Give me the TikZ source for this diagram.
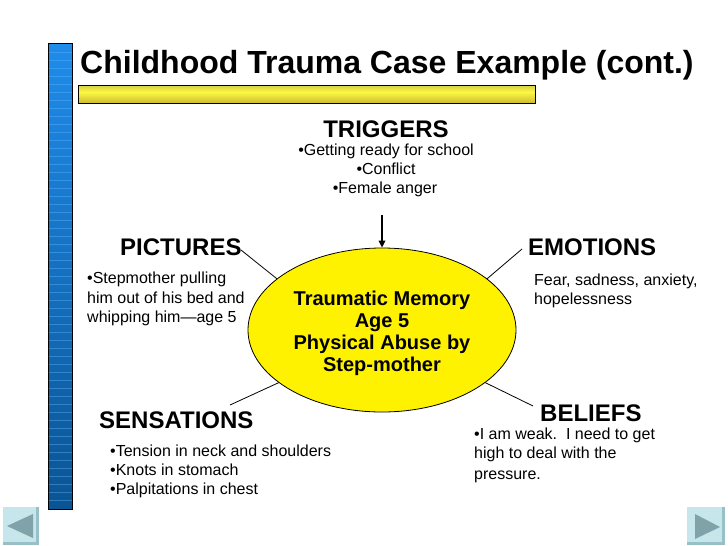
\documentclass[tikz,border=0pt]{standalone}
\usepackage{fontspec}
\setmainfont{Liberation Sans}
\usetikzlibrary{arrows.meta,shapes.geometric}
\definecolor{barTop}{HTML}{1E8CEC}
\definecolor{barBot}{HTML}{0A5494}
\definecolor{barLine}{HTML}{6CB4F2}
\definecolor{olvTop}{HTML}{D6CE44}
\definecolor{ylwMid}{HTML}{FCF844}
\definecolor{olvBot}{HTML}{CCBC30}
\definecolor{btnFill}{HTML}{C6E6EC}
\definecolor{btnEdge}{HTML}{98C0C8}
\definecolor{btnTri}{HTML}{7FA3A9}
\begin{document}
\begin{tikzpicture}[x=1pt,y=-1pt,
  ttl/.style={font=\fontsize{32}{36}\selectfont\bfseries, inner sep=0pt, anchor=base west},
  hd/.style={font=\fontsize{24}{28}\selectfont\bfseries, inner sep=0pt},
  tx/.style={font=\fontsize{16}{19}\selectfont, inner sep=0pt},
  mt/.style={font=\fontsize{20}{22}\selectfont\bfseries, inner sep=0pt, anchor=base},
  link/.style={draw=black, line width=0.8pt},
  memshape/.style={ellipse, draw=black, fill=yellow, line width=0.8pt, minimum width=268pt, minimum height=164pt, inner sep=0pt}]
\useasboundingbox (0,0) rectangle (728,546);
\fill[white] (0,0) rectangle (728,546);

% left decorative bar
\shade[top color=barTop, bottom color=barBot] (48,43) rectangle (72,509);
\foreach \yy in {52,60,...,500} \draw[barLine, opacity=0.4, line width=0.6pt] (48,\yy) -- (72,\yy);
\draw[black, line width=0.8pt] (48,43) rectangle (72,509);

% title
\node[ttl] (title) at (80,73) {Childhood Trauma Case Example (cont.)};

% title underline bar
\shade[top color=olvTop, bottom color=ylwMid] (78,85) rectangle (535,92);
\shade[top color=ylwMid, bottom color=olvBot] (78,92) rectangle (535,103);
\draw[black, line width=0.8pt] (78,85) rectangle (535,103);

% central memory
\node[memshape] (mem) at (382,330) {};
\node[mt] (m1) at (382,305) {Traumatic Memory};
\node[mt] (m2) at (382,327) {Age 5};
\node[mt] (m3) at (382,349) {Physical Abuse by};
\node[mt] (m4) at (382,371) {Step-mother};

% triggers
\node[hd, anchor=base] (trig) at (386,137) {TRIGGERS};
\node[tx, anchor=base] (t1) at (386,155) {•Getting ready for school};
\node[tx, anchor=base] (t2) at (386,174) {•Conflict};
\node[tx, anchor=base] (t3) at (385,193) {•Female anger};
\coordinate (arrS) at (382,215);
\draw[line width=1.6pt, -{Triangle[length=7pt,width=6.5pt]}] (arrS) -- (mem.north);

% pictures
\node[hd, anchor=base west] (pic) at (120,255) {PICTURES};
\node[tx, anchor=base west] (p1) at (87,283) {•Stepmother pulling};
\node[tx, anchor=base west] (p2) at (87,303) {him out of his bed and};
\node[tx, anchor=base west] (p3) at (87,322) {whipping him—age 5};

% emotions
\node[hd, anchor=base west] (emo) at (528,255) {EMOTIONS};
\node[tx, anchor=base west] (e1) at (534,285) {Fear, sadness, anxiety,};
\node[tx, anchor=base west] (e2) at (534,304) {hopelessness};

% sensations
\node[hd, anchor=base west] (sen) at (99,428) {SENSATIONS};
\node[tx, anchor=base west] (s1) at (110,456) {•Tension in neck and shoulders};
\node[tx, anchor=base west] (s2) at (110,475) {•Knots in stomach};
\node[tx, anchor=base west] (s3) at (110,494) {•Palpitations in chest};

% beliefs
\node[hd, anchor=base west] (bel) at (540,421) {BELIEFS};
\node[tx, anchor=base west] (b1) at (474,439) {•I am weak.\ \ I need to get};
\node[tx, anchor=base west] (b2) at (474,458) {high to deal with the};
\node[tx, anchor=base west] (b3) at (474,479) {pressure.};

% connectors
\coordinate (cPic) at (241,250);
\coordinate (cEmo) at (522,249);
\coordinate (cSen) at (230,405);
\coordinate (cBel) at (533,406);
\draw[link] (cPic) -- (mem.154);
\draw[link] (cEmo) -- (mem.26);
\draw[link] (cSen) -- (mem.207);
\draw[link] (cBel) -- (mem.333);

% navigation buttons
\fill[btnEdge] (3,507) rectangle (39,545);
\fill[btnFill] (3,507) rectangle (36,542);
\fill[btnTri] (7,526) -- (33,514) -- (33,538) -- cycle;
\fill[btnEdge] (687,507) rectangle (725,545);
\fill[btnFill] (687,507) rectangle (722,542);
\fill[btnTri] (695,514) -- (720,527) -- (695,539) -- cycle;
\end{tikzpicture}
\end{document}
